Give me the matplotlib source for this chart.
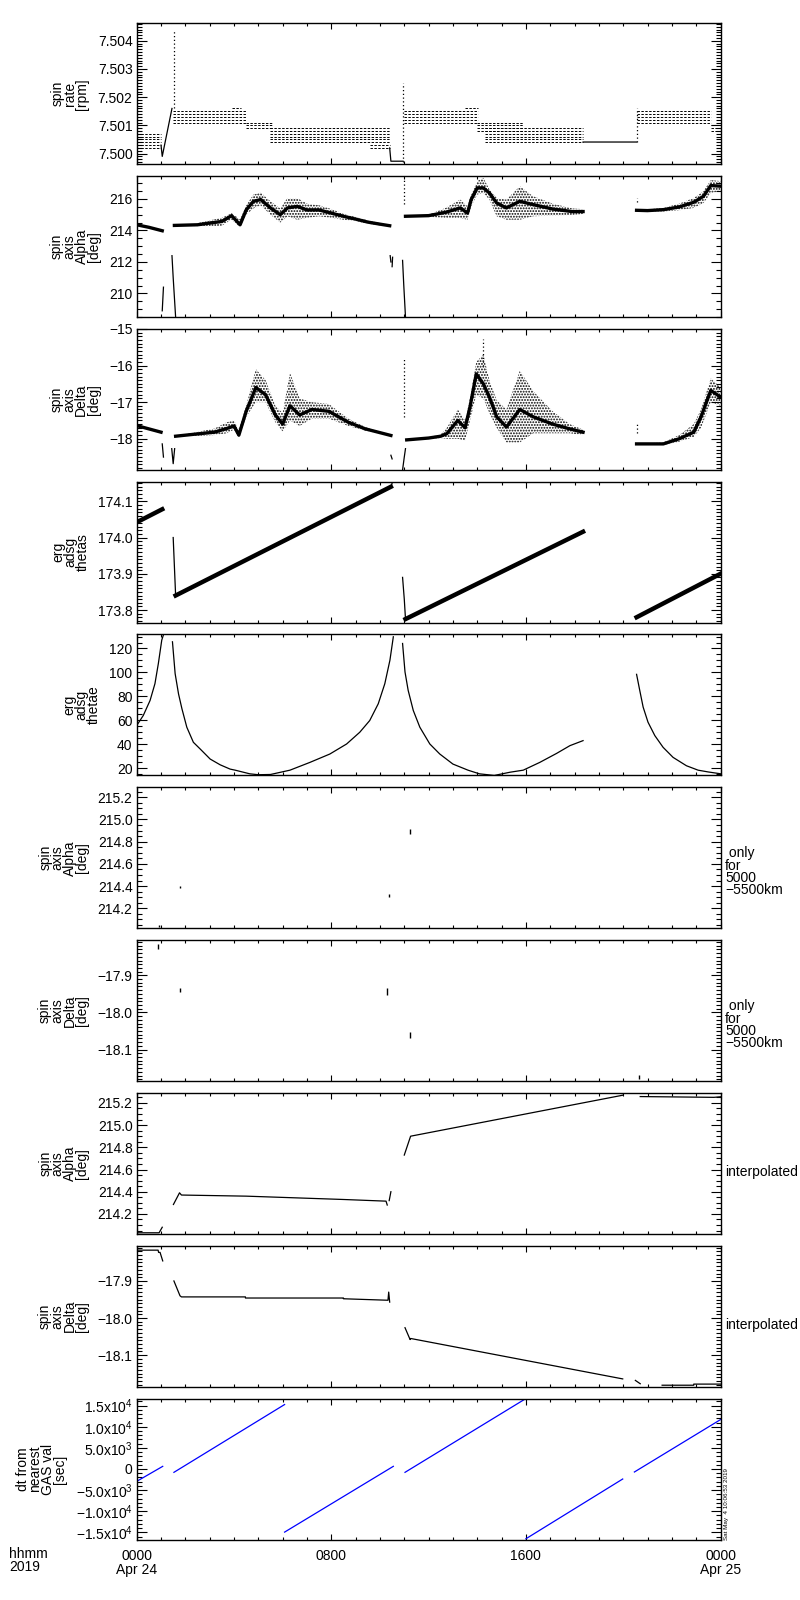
import matplotlib
matplotlib.use("Agg")
import matplotlib.pyplot as plt
import numpy as np
from matplotlib.ticker import FixedLocator, MultipleLocator, FuncFormatter

nan = np.nan

# time axis: hours after 2019-04-24 00:00
# ---- spin rate [rpm]: quantized bands, solid pieces, spikes
rate_band_start = [0.0, 1.5, 3.9, 4.5, 5.5, 9.6, 11.0, 13.5, 14.0, 14.3, 20.55, 23.6]
rate_band_end = [1.0, 4.5, 4.3, 5.6, 10.4, 10.4, 14.05, 14.05, 15.9, 18.35, 23.6, 24.0]
rate_band_low = [7.5002, 7.5011, 7.5016, 7.5009, 7.5004, 7.5002, 7.5011, 7.5016, 7.5008, 7.5004, 7.5011, 7.5008]
rate_band_high = [7.5007, 7.5015, 7.5016, 7.5011, 7.5009, 7.5003, 7.5015, 7.5016, 7.5011, 7.5009, 7.5015, 7.5010]
rate_line_t = [1.0, 1.05, 1.45, nan, 10.4, 10.45, 10.95, nan, 18.35, 20.55]
rate_line_v = [7.5003, 7.4999, 7.5016, nan, 7.5002, 7.49973, 7.49973, nan, 7.50041, 7.50041]
rate_spike_t = [1.52, 10.96, 20.55]
rate_spike_lo = [7.5016, 7.4997, 7.5004]
rate_spike_hi = [7.5044, 7.5025, 7.5016]

# ---- spin axis Alpha [deg]
alpha_t = [0.0, 0.5, 1.05, nan,
           1.55, 2.5, 3.0, 3.5, 3.9, 4.25, 4.5, 4.8, 5.1, 5.5, 5.9, 6.2, 6.6, 7.0, 7.5, 8.0, 8.5, 9.0, 9.5, 10.0, 10.4, nan,
           11.05, 12.0, 12.7, 13.3, 13.6, 13.75, 14.0, 14.25, 14.5, 14.8, 15.2, 15.75, 16.3, 17.1, 17.9, 18.35, nan,
           20.55, 21.0, 21.65, 22.3, 22.9, 23.3, 23.6, 24.0]
alpha_mid = [214.36, 214.2, 213.98, nan,
             214.32, 214.36, 214.47, 214.57, 214.94, 214.36, 215.3, 215.85, 215.96, 215.43, 215.0, 215.43, 215.53, 215.3, 215.3, 215.1, 214.9, 214.72, 214.53, 214.4, 214.3, nan,
             214.9, 214.94, 215.15, 215.43, 215.1, 215.96, 216.7, 216.7, 216.38, 215.74, 215.43, 215.85, 215.64, 215.36, 215.2, 215.2, nan,
             215.28, 215.26, 215.32, 215.49, 215.79, 216.17, 216.85, 216.81]
alpha_lo = [214.36, 214.2, 213.98, nan,
            214.32, 214.26, 214.26, 214.3, 214.7, 214.2, 215.0, 215.4, 215.6, 215.0, 214.5, 214.9, 214.68, 214.8, 214.9, 214.8, 214.68, 214.6, 214.43, 214.32, 214.3, nan,
            214.9, 214.87, 214.79, 214.79, 214.68, 215.53, 216.28, 216.38, 215.96, 214.9, 214.68, 214.68, 214.9, 214.94, 214.98, 215.05, nan,
            215.28, 215.2, 215.21, 215.28, 215.43, 215.74, 216.38, 216.49]
alpha_hi = [214.36, 214.2, 213.98, nan,
            214.32, 214.46, 214.64, 214.8, 215.1, 214.7, 215.6, 216.28, 216.4, 215.85, 215.4, 216.06, 216.06, 215.7, 215.6, 215.36, 215.05, 214.85, 214.64, 214.47, 214.3, nan,
            214.9, 215.0, 215.43, 215.96, 215.53, 216.28, 217.13, 217.34, 216.6, 216.06, 215.96, 216.8, 216.17, 215.7, 215.4, 215.35, nan,
            215.28, 215.33, 215.43, 215.7, 216.06, 216.49, 217.2, 217.13]
alpha_line_t = [1.05, 1.1, nan, 1.45, 1.5, 1.6, nan, 10.42, 10.45, nan, 10.5, 10.52, nan, 10.93, 10.98, 11.05]
alpha_line_v = [208.9, 210.4, nan, 212.4, 211.0, 208.5, nan, 212.4, 212.0, nan, 211.7, 212.3, nan, 212.1, 210.5, 208.5]
alpha_spike_t = [10.98, 20.55]
alpha_spike_lo = [215.7, 215.8]
alpha_spike_hi = [217.2, 216.06]

# ---- spin axis Delta [deg]
delta_t = [0.0, 0.5, 1.0, nan,
           1.6, 2.6, 3.2, 3.7, 4.0, 4.2, 4.5, 4.9, 5.3, 5.7, 6.0, 6.3, 6.7, 7.2, 7.9, 8.7, 9.4, 10.45, nan,
           11.1, 12.0, 12.5, 12.75, 13.2, 13.5, 13.7, 13.96, 14.25, 14.5, 14.8, 15.2, 15.75, 16.3, 17.1, 17.8, 18.35, nan,
           20.55, 21.65, 22.3, 22.9, 23.2, 23.6, 24.0]
delta_mid = [-17.64, -17.73, -17.82, nan,
             -17.93, -17.86, -17.82, -17.72, -17.65, -17.9, -17.25, -16.6, -16.8, -17.35, -17.6, -17.1, -17.35, -17.2, -17.25, -17.55, -17.73, -17.91, nan,
             -18.03, -17.98, -17.93, -17.86, -17.5, -17.7, -17.14, -16.23, -16.5, -16.86, -17.4, -17.68, -17.2, -17.4, -17.6, -17.73, -17.82, nan,
             -18.14, -18.14, -18.0, -17.82, -17.4, -16.68, -16.86]
delta_lo = [-17.64, -17.73, -17.82, nan,
            -17.93, -17.92, -17.9, -17.85, -17.75, -17.97, -17.4, -17.0, -17.0, -17.55, -17.8, -17.5, -17.65, -17.45, -17.45, -17.65, -17.78, -17.91, nan,
            -18.03, -18.0, -17.98, -18.0, -18.0, -18.05, -17.5, -16.8, -16.9, -17.3, -17.7, -18.1, -18.1, -17.85, -17.85, -17.85, -17.9, nan,
            -18.14, -18.17, -18.08, -17.95, -17.7, -17.0, -17.1]
delta_hi = [-17.64, -17.73, -17.82, nan,
            -17.93, -17.8, -17.72, -17.55, -17.5, -17.75, -17.1, -16.1, -16.4, -17.1, -17.3, -16.2, -16.9, -17.0, -17.05, -17.45, -17.68, -17.91, nan,
            -18.03, -17.96, -17.88, -17.7, -17.2, -17.5, -16.9, -15.9, -15.7, -16.4, -16.95, -17.2, -16.14, -16.7, -17.25, -17.6, -17.75, nan,
            -18.14, -18.1, -17.9, -17.6, -17.2, -16.35, -16.6]
delta_line_t = [1.05, 1.1, nan, 1.44, 1.5, 1.56, nan, 10.45, 10.5, nan, 10.93, 11.0, 11.05]
delta_line_v = [-18.14, -18.5, nan, -18.27, -18.68, -18.27, nan, -18.45, -18.55, nan, -18.85, -18.5, -18.27]
delta_spike_t = [11.0, 14.25, 20.55]
delta_spike_lo = [-17.4, -16.0, -17.85]
delta_spike_hi = [-15.8, -15.27, -17.6]

# ---- erg adsg thetas
thetas_band_t = [0.0, 1.05, nan, 1.6, 10.45, nan, 11.05, 18.35, nan, 20.55, 24.0]
thetas_band_v = [174.042, 174.078, nan, 173.84, 174.14, nan, 173.775, 174.016, nan, 173.78, 173.9]
thetas_drop_t = [1.5, 1.55, 1.6, nan, 10.45, 10.5, nan, 10.93, 11.0, 11.05]
thetas_drop_v = [174.0, 173.92, 173.84, nan, 174.14, 174.15, nan, 173.89, 173.83, 173.775]

# ---- erg adsg thetae
thetae_t = [0.0, 0.27, 0.55, 0.75, 0.89, 1.03, 1.1, nan,
            1.47, 1.58, 1.72, 1.86, 2.06, 2.33, 2.61, 3.02, 3.43, 3.84, 4.05, 4.65, 5.0, 5.5, 6.3, 7.12, 7.94,
            8.63, 9.17, 9.58, 9.93, 10.2, 10.41, 10.55, nan,
            10.93, 11.03, 11.16, 11.37, 11.64, 12.05, 12.46, 13.0, 13.62, 14.09, 14.7, 15.35, 15.89, 16.57,
            17.26, 17.81, 18.35, nan,
            20.55, 20.68, 20.82, 21.02, 21.3, 21.64, 22.05, 22.6, 23.08, 23.5, 24.0]
thetae_v = [55.6, 64, 76.6, 90.6, 107.4, 127, 131.5, nan,
            125.6, 99, 82, 69.6, 54.2, 41.6, 36, 27.6, 22.8, 19.2, 18.3, 15.25, 14.5, 14.7, 18.3, 24.8, 31.8,
            40.2, 50, 59.8, 73.8, 90.6, 110.2, 129.8, nan,
            124.2, 100.4, 85, 68.2, 54.2, 40.2, 31.8, 23.4, 18.3, 15.25, 13.9, 16.6, 18.3, 24.8,
            32.3, 38.8, 43, nan,
            98.4, 85, 71, 58.4, 47.2, 37.4, 29, 22, 18.3, 16.8, 15.3]

# ---- spin axis Alpha / Delta only for 5000-5500 km (short marks)
alphaq_t = [0.92, 1.76, 10.36, 11.22]
alphaq_lo = [214.03, 214.38, 214.30, 214.87]
alphaq_hi = [214.05, 214.40, 214.33, 214.91]
deltaq_t = [0.88, 1.76, 10.31, 11.22, 20.65]
deltaq_lo = [-17.829, -17.944, -17.953, -18.068, -18.178]
deltaq_hi = [-17.816, -17.933, -17.935, -18.054, -18.168]

# ---- interpolated Alpha / Delta
alphai_t = [0.0, 0.92, 1.05, nan, 1.51, 1.76, 1.84, 4.5, 8.5, 10.25, 10.3, nan, 10.38, 10.45, nan,
            11.0, 11.26, 20.0, nan, 20.7, 23.73, 24.0]
alphai_v = [214.03, 214.03, 214.08, nan, 214.285, 214.39, 214.37, 214.36, 214.33, 214.315, 214.28, nan, 214.32, 214.40, nan,
            214.73, 214.9, 215.27, nan, 215.257, 215.25, 215.255]
deltai_t = [0.0, 0.88, 0.9, 0.96, 1.07, nan, 1.53, 1.78, 1.84, 4.47, 4.47, 8.5, 8.5, 10.33, 10.36, 10.4, nan,
            11.03, 11.24, 11.26, 19.98, nan, 20.5, 20.7, nan, 21.6, 22.9, 22.9, 24.0]
deltai_v = [-17.817, -17.817, -17.823, -17.823, -17.846, nan, -17.90, -17.94, -17.943, -17.943, -17.946, -17.946, -17.948, -17.952, -17.93, -17.957, nan,
            -18.026, -18.058, -18.055, -18.164, nan, -18.168, -18.177, nan, -18.181, -18.181, -18.178, -18.178]

# ---- dt from nearest GAS val [sec]
dt_t = [0.0, 1.07, nan, 1.53, 6.08, nan, 6.08, 10.55, nan, 11.03, 16.0, nan, 16.0, 19.98, nan, 20.46, 24.0]
dt_v = [-2930, 630, nan, -790, 15270, nan, -14950, 630, nan, -790, 16690, nan, -16530, -2370, nan, -710, 11700]

ylabels = [
    "spin\nrate\n[rpm]",
    "spin\naxis\nAlpha\n[deg]",
    "spin\naxis\nDelta\n[deg]",
    "erg\nadsg\nthetas",
    "erg\nadsg\nthetae",
    "spin\naxis\nAlpha\n[deg]",
    "spin\naxis\nDelta\n[deg]",
    "spin\naxis\nAlpha\n[deg]",
    "spin\naxis\nDelta\n[deg]",
    "dt from\nnearest\nGAS val\n[sec]",
]
right_notes = [None, None, None, None, None,
               " only\nfor\n5000\n\u22125500km", " only\nfor\n5000\n\u22125500km",
               "interpolated", "interpolated", None]
ylims = [(7.49962, 7.50462), (208.5, 217.45), (-18.85, -15.0), (173.765, 174.154), (13.85, 131.7),
         (214.02, 215.29), (-18.185, -17.805), (214.02, 215.29), (-18.185, -17.805), (-16700, 16700)]
ymajor = [[7.500, 7.501, 7.502, 7.503, 7.504], [210, 212, 214, 216], [-18, -17, -16, -15],
          [173.8, 173.9, 174.0, 174.1], [20, 40, 60, 80, 100, 120],
          [214.2, 214.4, 214.6, 214.8, 215.0, 215.2], [-18.1, -18.0, -17.9],
          [214.2, 214.4, 214.6, 214.8, 215.0, 215.2], [-18.1, -18.0, -17.9],
          [-15000, -10000, -5000, 0, 5000, 10000, 15000]]
yminor = [0.0001, 0.5, 0.1, 0.01, 5, 0.05, 0.01, 0.05, 0.01, 1000]
yfmt = ["%.3f", "%d", "%d", "%.1f", "%d", "%.1f", "%.1f", "%.1f", "%.1f", None]
dt_labels = ["\u22121.5x10$^4$", "\u22121.0x10$^4$", "\u22125.0x10$^3$", "0",
             "5.0x10$^3$", "1.0x10$^4$", "1.5x10$^4$"]
x_labels = ["0000\nApr 24", "0800", "1600", "0000\nApr 25"]

plt.rcParams["font.family"] = ["Liberation Sans", "DejaVu Sans"]
plt.rcParams["mathtext.fontset"] = "custom"
plt.rcParams["mathtext.rm"] = "Liberation Sans"
plt.rcParams["font.size"] = 10
plt.rcParams["hatch.linewidth"] = 0.9

fig = plt.figure(figsize=(8, 16), dpi=100)
left = 136.7 / 800
width = 583.8 / 800
axes = []
for i in range(10):
    top_px = 23.3 + i * 152.8
    ax = fig.add_axes([left, 1 - (top_px + 141) / 1600, width, 141 / 1600])
    axes.append(ax)


def fmt_func(fmt):
    return FuncFormatter(lambda v, pos: (fmt % v).replace("-", "\u2212"))


for i, ax in enumerate(axes):
    ax.set_xlim(0, 24)
    ax.set_ylim(*ylims[i])
    ax.xaxis.set_major_locator(FixedLocator([0, 8, 16, 24]))
    ax.xaxis.set_minor_locator(MultipleLocator(1))
    ax.yaxis.set_major_locator(FixedLocator(ymajor[i]))
    ax.yaxis.set_minor_locator(MultipleLocator(yminor[i]))
    if yfmt[i]:
        ax.yaxis.set_major_formatter(fmt_func(yfmt[i]))
    ax.tick_params(axis="both", which="both", direction="in", top=True, right=True, width=0.8)
    ax.tick_params(axis="y", which="major", length=7.2, pad=3)
    ax.tick_params(axis="y", which="minor", length=3.6)
    ax.tick_params(axis="x", which="major", length=4)
    ax.tick_params(axis="x", which="minor", length=2.2)
    for sp in ax.spines.values():
        sp.set_linewidth(1.0)
    ax.set_ylabel(ylabels[i], labelpad=6, linespacing=0.85)
    if right_notes[i]:
        yy = 0.40 if "only" in right_notes[i] else 0.44
        ax.text(1.008, yy, right_notes[i], transform=ax.transAxes, ha="left", va="center",
                fontsize=10, linespacing=0.85)
    if i < 9:
        ax.set_xticklabels([])

# panel 1: spin rate
ax = axes[0]
for t0, t1, lo, hi in zip(rate_band_start, rate_band_end, rate_band_low, rate_band_high):
    levels = np.arange(lo, hi + 0.00005, 0.0001)
    ax.hlines(levels, t0, t1, colors="k", linewidth=0.7, linestyles=(0, (2.5, 1.5)))
ax.plot(rate_line_t, rate_line_v, color="k", linewidth=0.9)
ax.vlines(rate_spike_t, rate_spike_lo, rate_spike_hi, colors="k", linewidth=0.9, linestyles=(0, (1, 2)))

# panel 2 / 3: noisy attitude
for ax, t, mid, lo, hi, lt, lv, st, slo, shi in [
    (axes[1], alpha_t, alpha_mid, alpha_lo, alpha_hi, alpha_line_t, alpha_line_v,
     alpha_spike_t, alpha_spike_lo, alpha_spike_hi),
    (axes[2], delta_t, delta_mid, delta_lo, delta_hi, delta_line_t, delta_line_v,
     delta_spike_t, delta_spike_lo, delta_spike_hi),
]:
    ax.fill_between(t, lo, hi, facecolor="none", edgecolor="k", hatch="......", linewidth=0)
    ax.plot(t, mid, color="k", linewidth=2.4)
    ax.plot(lt, lv, color="k", linewidth=0.9)
    ax.vlines(st, slo, shi, colors="k", linewidth=0.9, linestyles=(0, (1, 2)))

# panel 4: thetas
axes[3].plot(thetas_band_t, thetas_band_v, color="k", linewidth=3.2)
axes[3].plot(thetas_drop_t, thetas_drop_v, color="k", linewidth=0.9)

# panel 5: thetae
axes[4].plot(thetae_t, thetae_v, color="k", linewidth=0.9)

# panel 6 / 7: only for 5000-5500 km
axes[5].vlines(alphaq_t, alphaq_lo, alphaq_hi, colors="k", linewidth=1.0)
axes[6].vlines(deltaq_t, deltaq_lo, deltaq_hi, colors="k", linewidth=1.0)

# panel 8 / 9: interpolated
axes[7].plot(alphai_t, alphai_v, color="k", linewidth=0.9)
axes[8].plot(deltai_t, deltai_v, color="k", linewidth=0.9)

# panel 10: dt
ax = axes[9]
ax.plot(dt_t, dt_v, color="#0000ff", linewidth=0.9)
ax.set_yticklabels(dt_labels)
ax.set_xticklabels(x_labels, linespacing=0.95)
ax.tick_params(axis="x", which="major", pad=7)
ax.text(1.006, 0.0, "Sat May  4 10:06:53 2019", transform=ax.transAxes, rotation=90,
        ha="left", va="bottom", fontsize=4.5)

fig.text(9 / 800, 1 - 1547 / 1600, "hhmm\n2019", ha="left", va="top", fontsize=10, linespacing=0.95)

fig.savefig("out.png", dpi=100)
